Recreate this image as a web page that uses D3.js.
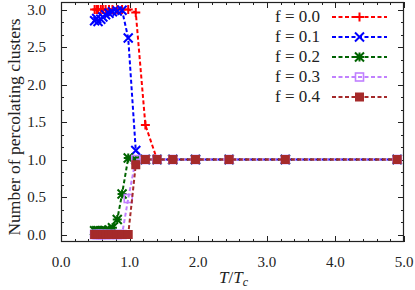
<!DOCTYPE html>
<html>
<head>
<meta charset="utf-8">
<script src="https://cdn.jsdelivr.net/npm/d3@7"></script>
<style>
  body { margin: 0; background: #fff; }
  text { font-family: "Liberation Serif", "DejaVu Serif", serif; fill: #222; }
</style>
</head>
<body>
<div id="chart"></div>
<script>
// T/Tc values shared by all series
const temps = [0.49, 0.52, 0.54, 0.58, 0.61, 0.65, 0.70, 0.75, 0.82, 0.89, 0.98, 1.09, 1.23, 1.40, 1.63, 1.96, 2.45, 3.27, 4.90];

const f00 = [3.0, 3.0, 3.0, 3.0, 3.0, 3.0, 3.0, 3.0, 3.0, 3.0, 3.0, 2.96, 1.46, 1.0, 1.0, 1.0, 1.0, 1.0, 1.0];
const f01 = [2.85, 2.88, 2.84, 2.87, 2.90, 2.93, 2.95, 2.97, 2.98, 2.99, 2.62, 1.12, 1.0, 1.0, 1.0, 1.0, 1.0, 1.0, 1.0];
const f02 = [0.05, 0.05, 0.05, 0.05, 0.05, 0.05, 0.06, 0.09, 0.2, 0.54, 1.02, 1.0, 1.0, 1.0, 1.0, 1.0, 1.0, 1.0, 1.0];
const f03 = [0, 0, 0, 0, 0, 0, 0, 0, 0, 0, 0.48, 1.0, 1.0, 1.0, 1.0, 1.0, 1.0, 1.0, 1.0];
const f04 = [0, 0, 0, 0, 0, 0, 0, 0, 0, 0, 0, 0.93, 1.0, 1.0, 1.0, 1.0, 1.0, 1.0, 1.0];

const labels = ["f = 0.0", "f = 0.1", "f = 0.2", "f = 0.3", "f = 0.4"];
const colors = ["#ff0000", "#0000ff", "#006400", "#c080ff", "#a52a2a"];
const markers = ["plus", "cross", "star", "boxOpen", "boxFilled"];
const xTicks = [0, 1, 2, 3, 4, 5];
const yTicks = [0, 0.5, 1, 1.5, 2, 2.5, 3];

const series = [f00, f01, f02, f03, f04].map((vals, i) => ({
    label: labels[i],
    color: colors[i],
    marker: markers[i],
    points: vals.map((v, j) => ({x: temps[j], y: v}))
}));

const W = 415, H = 290;
const margin = {t: 2, l: 61, r: 11, b: 48};
const w = W - margin.l - margin.r;
const h = H - margin.t - margin.b;

const svg = d3.select("#chart").append("svg")
    .attr("width", W)
    .attr("height", H);

const x = d3.scaleLinear().domain([0, 5]).range([margin.l, margin.l + w]);
const y = d3.scaleLinear().domain([-0.1, 3.1]).range([margin.t + h, margin.t]);

// ticks (inside, mirrored)
const xMinor = d3.range(0, 5.0001, 0.2);
const yMinor = d3.range(0, 3.0001, 0.5 / 3);
const ticks = svg.append("g").attr("stroke", "#222").attr("stroke-width", 1);
xMinor.forEach(v => {
    const major = xTicks.some(t => Math.abs(t - v) < 1e-6);
    const len = major ? 6 : 3;
    const px = Math.round(x(v)) + 0.5;
    ticks.append("line").attr("x1", px).attr("x2", px)
        .attr("y1", margin.t + h).attr("y2", margin.t + h - len);
    ticks.append("line").attr("x1", px).attr("x2", px)
        .attr("y1", margin.t).attr("y2", margin.t + len);
});
yMinor.forEach(v => {
    const major = yTicks.some(t => Math.abs(t - v) < 1e-6);
    const len = major ? 6 : 3;
    const py = Math.round(y(v)) + 0.5;
    ticks.append("line").attr("y1", py).attr("y2", py)
        .attr("x1", margin.l).attr("x2", margin.l + len);
    ticks.append("line").attr("y1", py).attr("y2", py)
        .attr("x1", margin.l + w).attr("x2", margin.l + w - len);
});

// tick labels
svg.append("g").selectAll("text")
    .data(xTicks)
    .join("text")
    .attr("x", d => x(d))
    .attr("y", margin.t + h + 25)
    .attr("text-anchor", "middle")
    .attr("font-size", 15)
    .text(d => d.toFixed(1));

svg.append("g").selectAll("text")
    .data(yTicks)
    .join("text")
    .attr("x", margin.l - 15)
    .attr("y", d => y(d) + 5)
    .attr("text-anchor", "end")
    .attr("font-size", 15)
    .text(d => d.toFixed(1));

// axis titles
const xt = svg.append("text")
    .attr("x", x(2.5) + 1)
    .attr("y", margin.t + h + 41)
    .attr("text-anchor", "middle")
    .attr("font-size", 17);
xt.append("tspan").attr("font-style", "italic").text("T");
xt.append("tspan").text("/");
xt.append("tspan").attr("font-style", "italic").text("T");
xt.append("tspan").attr("font-style", "italic").attr("font-size", 12).attr("dy", 2.5).text("c");

svg.append("text")
    .attr("transform", `translate(20, ${margin.t + h / 2 + 5}) rotate(-90)`)
    .attr("text-anchor", "middle")
    .attr("font-size", 17.5)
    .text("Number of percolating clusters");

// marker drawing
function drawMarker(g, type, color, cx, cy) {
    const s = 4.5;
    if (type === "plus") {
        g.append("path").attr("d", `M${cx - s},${cy}H${cx + s}M${cx},${cy - s}V${cy + s}`)
            .attr("stroke", color).attr("stroke-width", 2).attr("fill", "none");
    } else if (type === "cross") {
        g.append("path").attr("d", `M${cx - s},${cy - s}L${cx + s},${cy + s}M${cx - s},${cy + s}L${cx + s},${cy - s}`)
            .attr("stroke", color).attr("stroke-width", 2).attr("fill", "none");
    } else if (type === "star") {
        g.append("path").attr("d", `M${cx - s},${cy}H${cx + s}M${cx},${cy - s}V${cy + s}M${cx - s},${cy - s}L${cx + s},${cy + s}M${cx - s},${cy + s}L${cx + s},${cy - s}`)
            .attr("stroke", color).attr("stroke-width", 2).attr("fill", "none");
    } else if (type === "boxOpen") {
        g.append("rect").attr("x", cx - s + 0.5).attr("y", cy - s + 0.5)
            .attr("width", 2 * s - 1).attr("height", 2 * s - 1)
            .attr("stroke", color).attr("stroke-width", 1.6).attr("fill", "none");
    } else {
        g.append("rect").attr("x", cx - s).attr("y", cy - s)
            .attr("width", 2 * s).attr("height", 2 * s)
            .attr("fill", color);
    }
}

const line = d3.line().x(d => x(d.x)).y(d => y(d.y));

const plot = svg.append("g");
series.forEach(s => {
    const g = plot.append("g");
    g.append("path")
        .attr("d", line(s.points))
        .attr("fill", "none")
        .attr("stroke", s.color)
        .attr("stroke-width", 2)
        .attr("stroke-dasharray", "4,2.5");
    s.points.forEach(p => drawMarker(g, s.marker, s.color, x(p.x), y(p.y)));
});

// legend
const legend = svg.append("g");
series.forEach((s, i) => {
    const ly = 17 + i * 20;
    legend.append("text")
        .attr("x", 320)
        .attr("y", ly + 5)
        .attr("text-anchor", "end")
        .attr("font-size", 17)
        .text(s.label);
    legend.append("line")
        .attr("x1", 332).attr("x2", 387)
        .attr("y1", ly).attr("y2", ly)
        .attr("stroke", s.color)
        .attr("stroke-width", 2)
        .attr("stroke-dasharray", "4,2.5");
    drawMarker(legend, s.marker, s.color, 359.5, ly);
});

// frame
svg.append("rect")
    .attr("x", margin.l + 0.5).attr("y", margin.t + 0.5)
    .attr("width", w - 1).attr("height", h - 1)
    .attr("fill", "none")
    .attr("stroke", "#222")
    .attr("stroke-width", 1.2);
</script>
</body>
</html>
